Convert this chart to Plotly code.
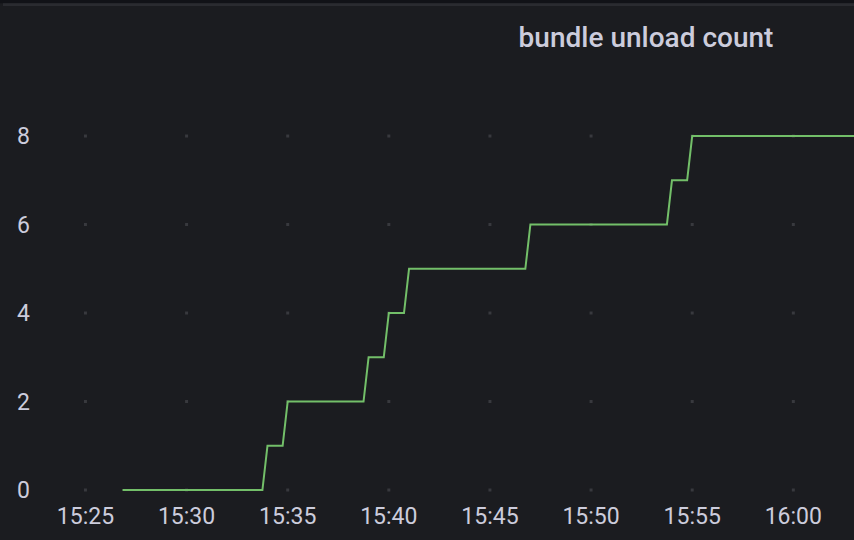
import plotly.graph_objects as go

# ---- data ----
times = ["2024-01-01 15:26:50", "2024-01-01 15:33:45", "2024-01-01 15:34:00",
         "2024-01-01 15:34:45", "2024-01-01 15:35:00", "2024-01-01 15:38:45",
         "2024-01-01 15:39:00", "2024-01-01 15:39:45", "2024-01-01 15:40:00",
         "2024-01-01 15:40:45", "2024-01-01 15:41:00", "2024-01-01 15:46:45",
         "2024-01-01 15:47:00", "2024-01-01 15:53:45", "2024-01-01 15:54:00",
         "2024-01-01 15:54:45", "2024-01-01 15:55:00", "2024-01-01 16:03:00"]
counts = [0, 0, 1, 1, 2, 2, 3, 3, 4, 4, 5, 5, 6, 6, 7, 7, 8, 8]

x_tick_vals = ["2024-01-01 15:25", "2024-01-01 15:30", "2024-01-01 15:35",
               "2024-01-01 15:40", "2024-01-01 15:45", "2024-01-01 15:50",
               "2024-01-01 15:55", "2024-01-01 16:00"]
x_tick_text = ["15:25", "15:30", "15:35", "15:40", "15:45", "15:50", "15:55", "16:00"]
y_tick_vals = [0, 2, 4, 6, 8]
title_text = "bundle unload count"

BG = "#1b1c20"
TEXT = "#ccccdc"
GREEN = "#73bf69"
GRID = "#38393e"

fig = go.Figure()

# grid dots at tick intersections
gx, gy = [], []
for xv in x_tick_vals:
    for yv in y_tick_vals:
        gx.append(xv)
        gy.append(yv)
fig.add_trace(go.Scatter(x=gx, y=gy, mode="markers",
                         marker=dict(symbol="square", size=3, color=GRID, line=dict(width=0)),
                         hoverinfo="skip", showlegend=False))

fig.add_trace(go.Scatter(x=times, y=counts, mode="lines",
                         line=dict(color=GREEN, width=2), showlegend=False))

fig.update_layout(
    width=854, height=540,
    margin=dict(l=45, r=0, t=60, b=40),
    paper_bgcolor=BG, plot_bgcolor=BG,
    font=dict(family="Roboto", color=TEXT, size=23),
    title=dict(text=title_text, xref="container", yref="container",
               x=646 / 854, y=1 - 37 / 540, xanchor="center", yanchor="middle",
               font=dict(family="Roboto", size=28, color=TEXT, weight=500)),
    xaxis=dict(type="date", range=["2024-01-01 15:23", "2024-01-01 16:03"],
               tickvals=x_tick_vals, ticktext=x_tick_text,
               showgrid=False, zeroline=False, showline=False, ticks="",
               tickfont=dict(size=23, color=TEXT)),
    yaxis=dict(range=[-0.226, 9.718], tickvals=y_tick_vals,
               showgrid=False, zeroline=False, showline=False, ticks="",
               ticklabelstandoff=14,
               tickfont=dict(size=23, color=TEXT)),
    shapes=[
        dict(type="rect", xref="paper", yref="paper", x0=-0.06, x1=1.01,
             y0=1.129, y1=1.14, fillcolor="#111217", line=dict(width=0), layer="above"),
        dict(type="rect", xref="paper", yref="paper", x0=(3 - 45) / 809, x1=1.01,
             y0=1.1227, y1=1.129, fillcolor="#2a2b30", line=dict(width=0), layer="above"),
    ],
)

fig.write_html("out.html")
